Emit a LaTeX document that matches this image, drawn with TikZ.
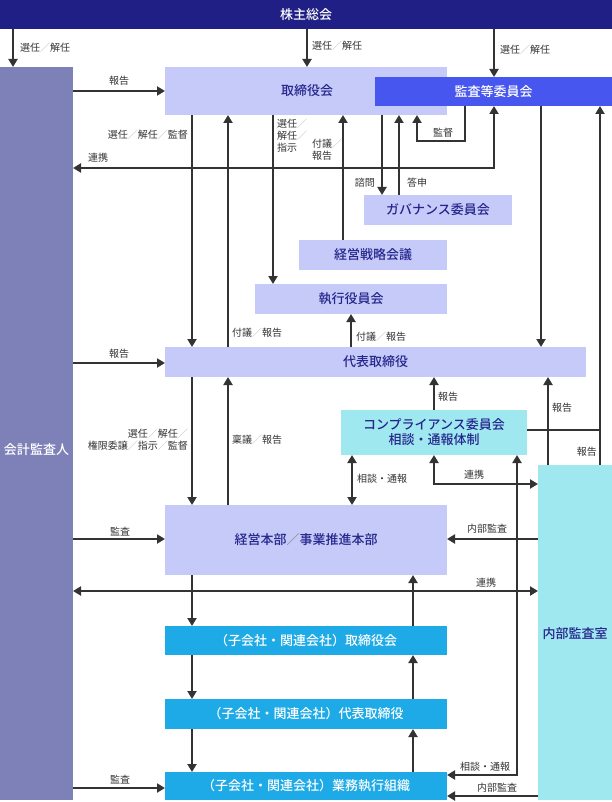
\documentclass[tikz,border=0pt]{standalone}
\usepackage{fontspec}
\setmainfont{Noto Sans CJK JP}
\newfontfamily\medf{Noto Sans CJK JP Medium}
\usetikzlibrary{arrows.meta}
\definecolor{navy}{HTML}{1F1F85}
\definecolor{kaikeic}{HTML}{7E80B8}
\definecolor{lav}{HTML}{C5CAF8}
\definecolor{kansac}{HTML}{4656EE}
\definecolor{cyanl}{HTML}{A0E8F0}
\definecolor{kob}{HTML}{1EAAE6}
\definecolor{boxtxt}{HTML}{25258C}
\definecolor{lnc}{HTML}{333333}
\newcommand\slh{{\color{gray!55}／}}
\newcommand\bslh{{\color{gray}／}}
\begin{document}
\begin{tikzpicture}[x=1pt,y=-1pt,
  box/.style={draw=none, inner sep=0pt, outer sep=0pt, font=\fontsize{13}{15}\selectfont\medf, align=center},
  lavbox/.style={box, fill=lav, text=boxtxt},
  cybox/.style={box, fill=cyanl, text=boxtxt},
  kobox/.style={box, fill=kob, text=white},
  arr/.style={draw=lnc, line width=2pt, -{Triangle[length=8pt,width=9pt]}},
  darr/.style={draw=lnc, line width=2pt, {Triangle[length=8pt,width=9pt]}-{Triangle[length=8pt,width=9pt]}},
  plain/.style={draw=lnc, line width=2pt},
  lbl/.style={font=\fontsize{10}{12}\selectfont, text=lnc, inner sep=0pt}
]
\useasboundingbox (0,0) rectangle (612,802);
% boxes
\node[box, fill=navy, text=white, minimum width=612pt, minimum height=29pt] (kabu) at (306,14.5) {株主総会};
\node[box, fill=kaikeic, minimum width=73pt, minimum height=733pt] (kaikei) at (36.5,433.5) {};
\node[box, text=white] (kaikeit) at (36.5,450) {会計監査人};
\node[lavbox, minimum width=282pt, minimum height=48pt] (torishimari) at (306,91) {};
\node[box, text=boxtxt] (torit) at (307,91) {取締役会};
\node[box, fill=kansac, text=white, minimum width=237pt, minimum height=29pt] (kansa) at (493.5,91.5) {監査等委員会};
\node[lavbox, minimum width=148pt, minimum height=30pt] (gov) at (438,210) {ガバナンス委員会};
\node[lavbox, minimum width=148pt, minimum height=30pt] (senryaku) at (373,255) {経営戦略会議};
\node[lavbox, minimum width=192pt, minimum height=30pt] (shikkou) at (351,299) {執行役員会};
\node[lavbox, minimum width=421pt, minimum height=30pt] (daihyo) at (375.5,362) {代表取締役};
\node[cybox, minimum width=186pt, minimum height=45pt] (comp) at (434,432.5) {コンプライアンス委員会\\相談・通報体制};
\node[cybox, minimum width=74pt, minimum height=335pt] (naibu) at (575,632.5) {};
\node[box, text=boxtxt] (naibut) at (575,634) {内部監査室};
\node[lavbox, minimum width=282pt, minimum height=70pt] (honbu) at (306,540) {経営本部\bslh 事業推進本部};
\node[kobox, minimum width=282pt, minimum height=29pt] (ko1) at (306,640.5) {（子会社・関連会社）取締役会};
\node[kobox, minimum width=282pt, minimum height=30pt] (ko2) at (306,714) {（子会社・関連会社）代表取締役};
\node[kobox, minimum width=282pt, minimum height=28pt] (ko3) at (306,786) {（子会社・関連会社）業務執行組織};
% guide coordinates
\coordinate (vA) at (13,0);
\coordinate (vB) at (307,0);
\coordinate (vC) at (494,0);
\coordinate (v192) at (192,0);
\coordinate (v228) at (228,0);
\coordinate (v273) at (273,0);
\coordinate (v343) at (343,0);
\coordinate (v351) at (351,0);
\coordinate (v352) at (352,0);
\coordinate (v382) at (382,0);
\coordinate (v399) at (399,0);
\coordinate (v413) at (413,0);
\coordinate (v417) at (417,0);
\coordinate (v434) at (434,0);
\coordinate (v465) at (465,0);
\coordinate (v517) at (517,0);
\coordinate (v541) at (541,0);
\coordinate (v548) at (548,0);
\coordinate (v600) at (600,0);
\coordinate (h91) at (0,91);
\coordinate (h141) at (0,141);
\coordinate (h168) at (0,168);
\coordinate (h363) at (0,363);
\coordinate (h430) at (0,430);
\coordinate (h484) at (0,484);
\coordinate (h539) at (0,539);
\coordinate (h591) at (0,591);
\coordinate (h775) at (0,775);
\coordinate (h788) at (0,788);
\coordinate (h796) at (0,796);
% connectors
\draw[arr] (kabu.south -| vA) -- (kaikei.north -| vA);
\draw[arr] (kabu.south -| vB) -- (torishimari.north -| vB);
\draw[arr] (kabu.south -| vC) -- (kansa.north -| vC);
\draw[arr] (kaikei.east |- h91) -- (torishimari.west |- h91);
\draw[arr] (torishimari.south -| v192) -- (daihyo.north -| v192);
\draw[arr] (daihyo.north -| v228) -- (torishimari.south -| v228);
\draw[arr] (torishimari.south -| v273) -- (shikkou.north -| v273);
\draw[arr] (senryaku.north -| v343) -- (torishimari.south -| v343);
\draw[arr] (torishimari.south -| v382) -- (gov.north -| v382);
\draw[arr] (gov.north -| v399) -- (torishimari.south -| v399);
\draw[arr] (kansa.south -| v465) |- (h141 -| v417) -- (torishimari.south -| v417);
\draw[darr] (kaikei.east |- h168) -| (kansa.south -| vC);
\draw[arr] (kansa.south -| v541) -- (daihyo.north -| v541);
\draw[arr] (naibu.north -| v600) -- (kansa.south -| v600);
\draw[plain] (comp.east |- h430) -- (h430 -| v600);
\draw[arr] (naibu.north -| v548) -- (daihyo.south -| v548);
\draw[arr] (comp.north -| v434) -- (daihyo.south -| v434);
\draw[arr] (daihyo.north -| v351) -- (shikkou.south -| v351);
\draw[arr] (kaikei.east |- h363) -- (daihyo.west |- h363);
\draw[arr] (daihyo.south -| v192) -- (honbu.north -| v192);
\draw[arr] (honbu.north -| v228) -- (daihyo.south -| v228);
\draw[darr] (comp.south -| v352) -- (honbu.north -| v352);
\draw[darr] (comp.south -| v434) |- (naibu.west |- h484);
\draw[arr] (naibu.west |- h539) -- (honbu.east |- h539);
\draw[arr] (kaikei.east |- h539) -- (honbu.west |- h539);
\draw[darr] (kaikei.east |- h591) -- (naibu.west |- h591);
\draw[arr] (honbu.south -| v192) -- (ko1.north -| v192);
\draw[arr] (ko1.south -| v192) -- (ko2.north -| v192);
\draw[arr] (ko2.south -| v192) -- (ko3.north -| v192);
\draw[arr] (ko1.north -| v413) -- (honbu.south -| v413);
\draw[arr] (ko2.north -| v413) -- (ko1.south -| v413);
\draw[arr] (ko3.north -| v413) -- (ko2.south -| v413);
\draw[darr] (comp.south -| v517) |- (ko3.east |- h775);
\draw[arr] (naibu.west |- h796) -- (ko3.east |- h796);
\draw[arr] (kaikei.east |- h788) -- (ko3.west |- h788);
% labels
\node[lbl, anchor=west] (l1) at (20,48) {選任\slh 解任};
\node[lbl, anchor=west] (l2) at (312,46) {選任\slh 解任};
\node[lbl, anchor=west] (l3) at (500,50) {選任\slh 解任};
\node[lbl] (l4) at (119,81) {報告};
\node[lbl, anchor=east] (l5) at (188,135) {選任\slh 解任\slh 監督};
\node[lbl] (l6) at (98,158) {連携};
\node[lbl, anchor=west, align=left] (l7) at (277,136) {選任\slh\\解任\slh\\指示};
\node[lbl, anchor=west, align=left] (l8) at (312,150) {付議\slh\\報告};
\node[lbl, anchor=east] (l9) at (375,183) {諮問};
\node[lbl, anchor=west] (l10) at (407,183) {答申};
\node[lbl] (l11) at (443,133) {監督};
\node[lbl, anchor=west] (l12) at (232,333) {付議\slh 報告};
\node[lbl, anchor=west] (l13) at (356,337) {付議\slh 報告};
\node[lbl] (l14) at (119,354) {報告};
\node[lbl, anchor=west] (l15) at (438,397) {報告};
\node[lbl, anchor=west] (l16) at (552,408) {報告};
\node[lbl, anchor=east] (l17) at (597,452) {報告};
\node[lbl, anchor=east, align=right] (l18) at (188,440) {選任\slh 解任\slh\\権限委譲\slh 指示\slh 監督};
\node[lbl, anchor=west] (l19) at (232,440) {稟議\slh 報告};
\node[lbl, anchor=west] (l20) at (357,479) {相談・通報};
\node[lbl] (l21) at (474,475) {連携};
\node[lbl] (l22) at (487,529) {内部監査};
\node[lbl] (l23) at (120,532) {監査};
\node[lbl] (l24) at (486,583) {連携};
\node[lbl] (l25) at (485,767) {相談・通報};
\node[lbl] (l26) at (497,788) {内部監査};
\node[lbl] (l27) at (120,780) {監査};
\end{tikzpicture}
\end{document}
